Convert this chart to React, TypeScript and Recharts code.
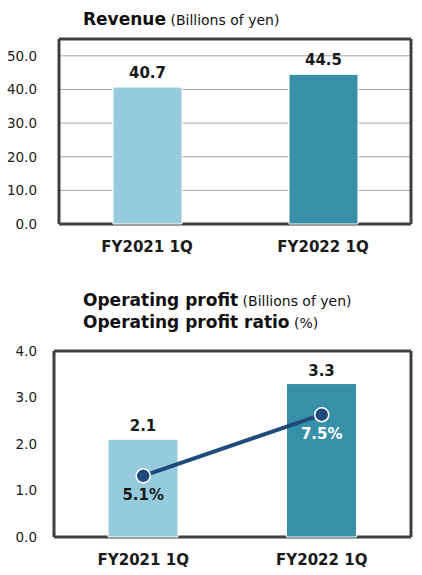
import { Bar, BarChart, CartesianGrid, Cell, ComposedChart, LabelList, Line, XAxis, YAxis } from 'recharts'

const FONT = '"DejaVu Sans", Verdana, sans-serif'

const categories = ['FY2021 1Q', 'FY2022 1Q']
const revenue = [40.7, 44.5]
const operatingProfit = [2.1, 3.3]
const profitRatio = [5.1, 7.5]
const revenueTicks = [0, 10, 20, 30, 40, 50]
const profitTicks = [0, 1, 2, 3, 4]
const barColors = ['#95CBDD', '#3790A8']
const ratioLabelColors = ['#1a1a1a', '#ffffff']

const revenueData = categories.map((c, i) => ({ name: c, value: revenue[i] }))
const profitData = categories.map((c, i) => ({ name: c, profit: operatingProfit[i], ratio: profitRatio[i] }))

// outer frame of the plot area, drawn as a second grid on the plot edges
const frameH = ({ offset }: any) => [offset.top, offset.top + offset.height]
const frameV = ({ offset }: any) => [offset.left, offset.left + offset.width]

function CategoryTick({ x, y, payload }: any) {
  return (
    <text x={x} y={y + 28} textAnchor="middle" fontFamily={FONT} fontWeight="bold" fontSize={15} fill="#1a1a1a">
      {payload.value}
    </text>
  )
}

function RatioLabel({ x, y, value, index }: any) {
  return (
    <text x={x} y={y + 24} textAnchor="middle" fontFamily={FONT} fontWeight="bold" fontSize={15} fill={ratioLabelColors[index]}>
      {Number(value).toFixed(1)}%
    </text>
  )
}

const yTick = { fill: '#1a1a1a', fontSize: 13.5, fontFamily: FONT }
const barLabel = { fill: '#1a1a1a', fontSize: 15, fontWeight: 'bold', fontFamily: FONT }
const fmt1 = (v: number) => Number(v).toFixed(1)

function Title({ top, main, unit }: { top: number; main: string; unit: string }) {
  return (
    <div style={{ position: 'absolute', left: 83, top, fontFamily: FONT, color: '#111', lineHeight: '22px', whiteSpace: 'nowrap' }}>
      <span style={{ fontSize: 17, fontWeight: 'bold' }}>{main}</span>
      <span style={{ fontSize: 14 }}> {unit}</span>
    </div>
  )
}

export default function App() {
  return (
    <div style={{ position: 'absolute', left: 0, top: 0, width: 422, height: 575, background: '#fff', overflow: 'hidden' }}>
      <Title top={8} main="Revenue" unit="(Billions of yen)" />
      <div style={{ position: 'absolute', left: 0, top: 30 }}>
        <BarChart width={422} height={230} data={revenueData} margin={{ top: 9, right: 11, left: 0, bottom: 0 }}>
          <CartesianGrid vertical={false} stroke="#A6A6A6" strokeWidth={1} />
          <XAxis dataKey="name" height={36} axisLine={false} tickLine={false} tickSize={0} tickMargin={0} tick={<CategoryTick />} />
          <YAxis width={59} domain={[0, 55]} ticks={revenueTicks} axisLine={false} tickLine={false} tickSize={0} tickMargin={22} tick={yTick} tickFormatter={fmt1} />
          <Bar dataKey="value" barSize={69} stroke="#ffffff" strokeWidth={1} isAnimationActive={false}>
            {revenueData.map((d, i) => (
              <Cell key={d.name} fill={barColors[i]} />
            ))}
            <LabelList dataKey="value" position="top" offset={9} formatter={fmt1} style={barLabel} />
          </Bar>
          <CartesianGrid stroke="#404040" strokeWidth={3} horizontalCoordinatesGenerator={frameH} verticalCoordinatesGenerator={frameV} />
        </BarChart>
      </div>

      <Title top={289} main="Operating profit" unit="(Billions of yen)" />
      <Title top={311} main="Operating profit ratio" unit="(%)" />
      <div style={{ position: 'absolute', left: 0, top: 340 }}>
        <ComposedChart width={422} height={235} data={profitData} margin={{ top: 11, right: 11, left: 0, bottom: 0 }}>
          <CartesianGrid vertical={false} stroke="#A6A6A6" strokeWidth={1} />
          <XAxis dataKey="name" height={38} axisLine={false} tickLine={false} tickSize={0} tickMargin={0} tick={<CategoryTick />} />
          <YAxis yAxisId="profit" width={54} domain={[0, 4]} ticks={profitTicks} axisLine={false} tickLine={false} tickSize={0} tickMargin={17} tick={yTick} tickFormatter={fmt1} />
          <YAxis yAxisId="ratio" orientation="right" hide domain={[2.7, 10]} />
          <Bar yAxisId="profit" dataKey="profit" barSize={70} stroke="#ffffff" strokeWidth={1} isAnimationActive={false}>
            {profitData.map((d, i) => (
              <Cell key={d.name} fill={barColors[i]} />
            ))}
            <LabelList dataKey="profit" position="top" offset={8} formatter={fmt1} style={barLabel} />
          </Bar>
          <Line
            yAxisId="ratio"
            dataKey="ratio"
            stroke="#1F4A7C"
            strokeWidth={4}
            dot={{ r: 7, fill: '#1F4A7C', stroke: '#ffffff', strokeWidth: 1.5 }}
            label={<RatioLabel />}
            isAnimationActive={false}
          />
          <CartesianGrid stroke="#404040" strokeWidth={3} horizontalCoordinatesGenerator={frameH} verticalCoordinatesGenerator={frameV} />
        </ComposedChart>
      </div>
    </div>
  )
}
